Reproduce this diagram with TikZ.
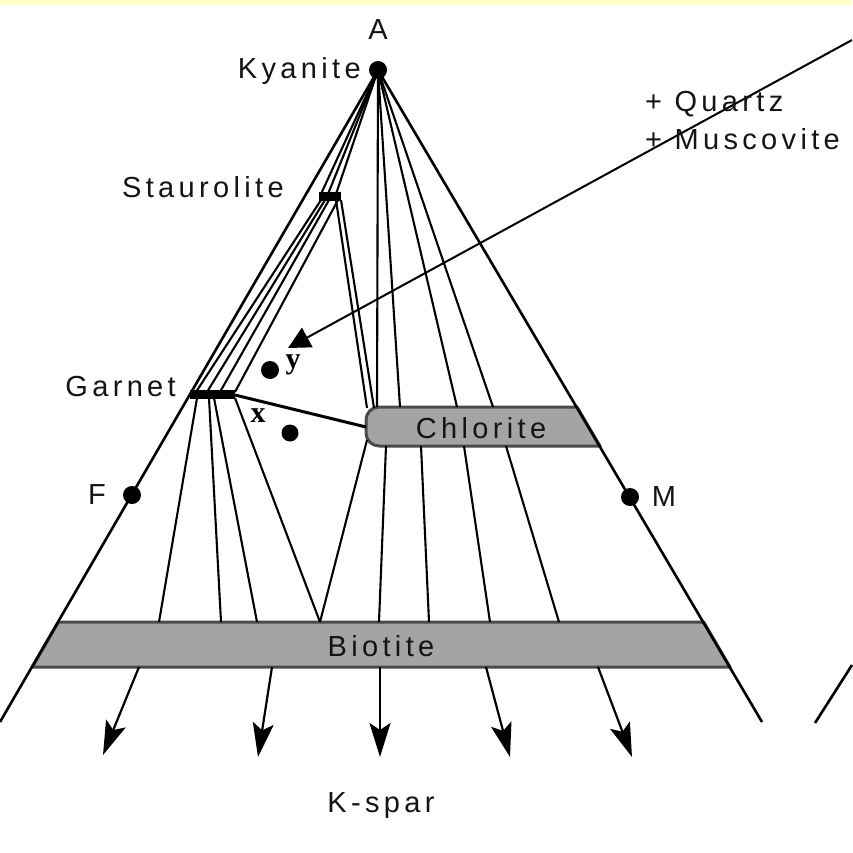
\documentclass[tikz,border=0pt]{standalone}
\usepackage{fontspec}
\setmainfont[LetterSpace=15]{Liberation Sans}
\newfontfamily\serif{Liberation Serif}
\usetikzlibrary{arrows.meta}
\definecolor{banda}{HTML}{A4A4A4}
\definecolor{vorab}{HTML}{4A4A4A}
\definecolor{tinta}{HTML}{141414}
\definecolor{franja}{HTML}{FFFFCC}
\tikzset{
  costat/.style={draw=black, line width=2.6pt},
  unio/.style={draw=black, line width=2.1pt},
  fase/.style={fill=banda, draw=vorab, line width=3pt, line join=round},
  punt/.style={fill=black},
  etiq/.style={text=tinta, font=\fontsize{29}{32}\selectfont, inner sep=0pt},
  lletra/.style={text=black, font=\serif\bfseries\fontsize{30}{32}\selectfont, inner sep=0pt},
  ksp/.style={-{Stealth[length=34pt,width=21pt,inset=7pt]}, draw=black, line width=2.2pt},
}

\begin{document}
\begin{tikzpicture}[x=1pt,y=-1pt]
  \useasboundingbox (0,0) rectangle (852,853);
  \fill[franja] (0,0) rectangle (852,5);

  % Vèrtexs del triangle AFM, tallat per sota.
  \coordinate (A) at (378,70);
  \coordinate (F) at (132,495);
  \coordinate (M) at (630,497);
  \coordinate (L) at (0,722);
  \coordinate (R) at (762,722);

  % Bandes de clorita i biotita.
  \draw[fase] (58.5,622) -- (703.7,622) -- (730,667) -- (32.4,667) -- cycle;
  \draw[fase, rounded corners=13pt] (577,407) -- (366,407) -- (366,446)
    [sharp corners] -- (600,446) -- cycle;

  % Unions des de la cianita.
  \foreach \x in {321,328,336} \draw[unio] (A) -- (\x,194);
  \foreach \x in {377,400,457,493} \draw[unio] (A) -- (\x,407);

  % Unions de l'estaurolita amb el granat i la clorita.
  \draw[unio] (321,200) -- (196,392);
  \draw[unio] (325,200) -- (207,392);
  \draw[unio] (329,200) -- (220,392);
  \draw[unio] (338,200) -- (235,392);
  \draw[unio] (336,200) -- (367,408);
  \draw[unio] (341,200) -- (374,408);

  % Granat - clorita.
  \draw[black, line width=3pt] (235,395) -- (366,427);

  % Unions amb la biotita.
  \draw[unio] (197,398) -- (159,622);
  \draw[unio] (209,398) -- (221,622);
  \draw[unio] (214,398) -- (257,622);
  \draw[unio] (235,398) -- (320,622);
  \draw[unio] (367,440) -- (320,622);
  \draw[unio] (386,446) -- (379,622);
  \draw[unio] (421,446) -- (429,622);
  \draw[unio] (464,446) -- (490,622);
  \draw[unio] (506,446) -- (559,622);

  % Costats del triangle i un tros del veí de la dreta.
  \draw[costat] (A) -- (L);
  \draw[costat] (A) -- (R);
  \draw[costat] (815,723) -- (852,665);

  % Fases sòlides puntuals.
  \fill[black] (319,192) rectangle (341,201);
  \fill[black] (190,390) rectangle (235,399);
  \fill[punt] (A) circle (9);
  \fill[punt] (F) circle (9);
  \fill[punt] (M) circle (9);
  \fill[punt] (270,370) circle (9);
  \fill[punt] (290,433) circle (8.5);

  % Cap al feldspat potàssic.
  \draw[ksp] (139,667) -- (103,755);
  \draw[ksp] (272,667) -- (258,757);
  \draw[ksp] (380,667) -- (380,757);
  \draw[ksp] (486,667) -- (510,757);
  \draw[ksp] (598,667) -- (632,757);

  % Fletxa que ve de fora.
  \draw[-{Triangle[length=22pt,width=22pt]}, line width=2pt] (852,40) -- (288,348);

  % Rètols.
  \node[etiq] at (378,30) {A};
  \node[etiq, anchor=east] at (361,71) {Kyanite};
  \node[etiq, anchor=east] at (284,187) {Staurolite};
  \node[etiq, anchor=east] at (176,387) {Garnet};
  \node[etiq] at (97,495) {F};
  \node[etiq] at (664,497) {M};
  \node[etiq, anchor=west] at (645,104) {+ Quartz};
  \node[etiq, anchor=west] at (645,139) {+ Muscovite};
  \node[etiq] at (481,428) {Chlorite};
  \node[etiq] at (381,646) {Biotite};
  \node[etiq] at (381,806) {K-spar};
  \node[lletra] at (293,365) {y};
  \node[lletra] at (258,416) {x};
\end{tikzpicture}
\end{document}
